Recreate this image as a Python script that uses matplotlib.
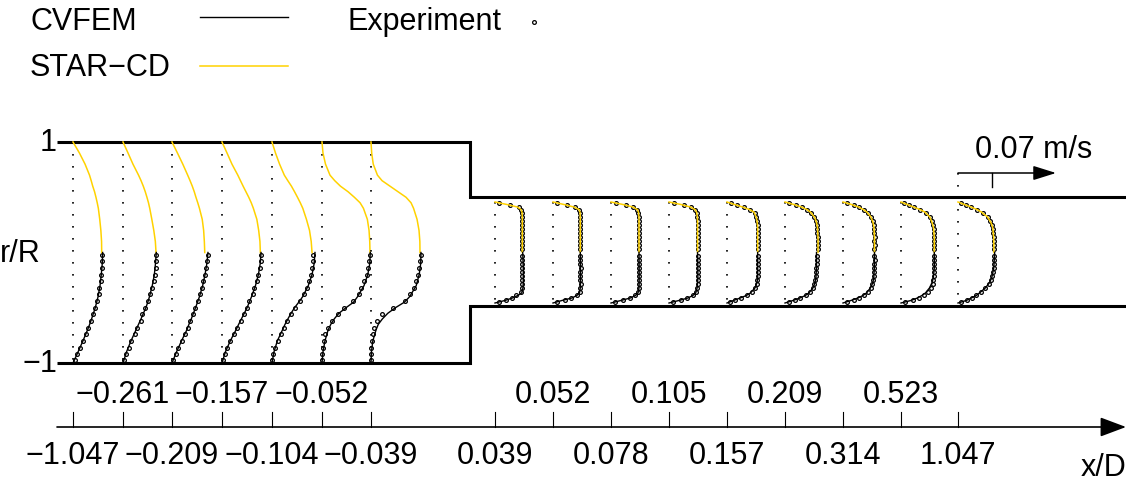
import numpy as np
import matplotlib.pyplot as plt

plt.rcParams['font.family'] = ['Liberation Sans', 'DejaVu Sans']

# measuring stations, x/D
X_UP = [-1.047, -0.261, -0.209, -0.157, -0.104, -0.052, -0.039]
X_DN = [0.039, 0.052, 0.078, 0.105, 0.157, 0.209, 0.314, 0.523, 1.047]

# upstream profiles, axial velocity in mm/s at |r/R|
R_UP = [0, .1, .2, .3, .4, .45, .5, .55, .6, .65, .7, .8, .9, 1]
STAR_UP = [
    [20.5, 20.4, 19.9, 19.1, 18.1, 17.3, 16.4, 15.4, 14.1, 13.0, 11.8, 8.6, 4.6, 0],
    [23.6, 23.1, 22.0, 20.6, 19.1, 18.2, 17.1, 15.9, 14.5, 12.9, 11.1, 7.1, 3.6, 0],
    [23.4, 23.1, 22.6, 21.6, 19.6, 18.4, 17.1, 15.9, 14.5, 12.9, 11.2, 7.7, 3.9, 0],
    [27.4, 27.1, 26.2, 24.9, 22.4, 20.9, 19.1, 17.1, 15.1, 13.2, 11.3, 7.1, 3.6, 0],
    [28.6, 28.0, 26.8, 24.6, 22.0, 20.2, 18.2, 16.1, 13.9, 11.3, 8.8, 5.4, 2.5, 0],
    [34.3, 34.1, 33.6, 32.4, 29.6, 27.2, 23.1, 18.6, 13.2, 9.1, 5.7, 2.5, 0.7, 0],
    [35.0, 34.9, 34.3, 32.9, 30.4, 28.6, 25.0, 19.3, 13.6, 7.9, 4.6, 1.6, 0.5, 0],
]
CVFEM_UP = [
    [21.2, 20.9, 20.2, 19.3, 17.9, 16.9, 15.9, 14.6, 13.3, 11.9, 10.4, 7.1, 3.6, 0],
    [23.8, 23.2, 22.4, 20.9, 18.9, 17.7, 16.3, 14.6, 12.9, 11.1, 9.3, 5.7, 2.5, 0],
    [25.7, 24.9, 23.6, 21.9, 19.6, 18.2, 16.8, 15.3, 13.8, 12.1, 10.6, 6.8, 3.2, 0],
    [27.9, 27.3, 26.0, 23.9, 21.1, 19.5, 17.9, 15.9, 13.9, 11.9, 10.0, 5.9, 2.4, 0],
    [30.7, 30.1, 28.6, 25.9, 21.9, 19.1, 16.1, 13.6, 11.4, 9.3, 7.5, 3.8, 1.4, 0],
    [34.5, 34.1, 32.7, 30.0, 25.4, 22.5, 17.1, 12.1, 8.8, 6.3, 4.4, 2.1, 0.7, 0],
    [35.7, 35.5, 34.4, 32.3, 27.6, 23.8, 17.4, 12.0, 8.2, 5.2, 3.6, 1.3, 0.3, 0],
]
EXP_R_UP = [-0.02, -0.08, -0.14, -0.2, -0.26, -0.32, -0.38, -0.44, -0.5,
            -0.56, -0.62, -0.68, -0.74, -0.8, -0.86, -0.92, -0.97]
EXP_UP = [
    [21.0, 20.8, 20.5, 20.0, 19.8, 18.8, 18.3, 17.0, 16.0, 14.2, 13.0, 10.8, 9.3, 7.0, 5.2, 2.8, 1.2],
    [23.8, 23.6, 23.4, 23.2, 22.0, 20.6, 19.3, 17.6, 16.0, 13.8, 12.5, 10.2, 8.3, 6.0, 4.0, 2.0, 0.8],
    [25.5, 25.0, 24.3, 23.5, 22.4, 21.2, 20.0, 18.6, 16.7, 15.2, 13.0, 11.3, 9.0, 6.9, 4.5, 2.5, 1.0],
    [27.8, 27.5, 26.9, 25.8, 25.0, 23.2, 21.8, 19.6, 18.1, 15.4, 13.3, 10.6, 8.5, 5.8, 3.9, 1.9, 0.7],
    [29.5, 29.3, 28.8, 27.8, 26.5, 24.8, 22.5, 19.8, 16.5, 13.5, 11.0, 8.4, 6.3, 4.0, 2.3, 1.0, 0.3],
    [34.3, 33.5, 32.7, 32.0, 30.0, 27.9, 26.3, 22.0, 16.0, 11.3, 6.8, 4.4, 2.1, 1.4, 0.8, 0.2, 0.0],
    [35.6, 35.2, 34.6, 33.9, 32.4, 30.9, 28.2, 24.0, 15.9, 7.8, 4.5, 2.4, 1.3, 0.7, 0.3, 0.0, 0.0],
]

# downstream profiles, axial velocity in mm/s at |r/R|
R_DN = [0, .3, .5, .6, .7, .8, .85, .9, .95, 1]
STAR_DN = [
    [19.5, 19.5, 19.5, 19.5, 19.5, 19.3, 18.6, 16.1, 8.6, 0],
    [19.5, 19.5, 19.5, 19.5, 19.5, 19.3, 18.6, 15.0, 7.9, 0],
    [20.0, 20.0, 20.0, 20.0, 20.0, 19.6, 18.9, 15.7, 8.6, 0],
    [20.4, 20.4, 20.4, 20.4, 20.3, 19.7, 18.6, 15.4, 8.6, 0],
    [21.9, 21.9, 21.9, 21.6, 20.9, 19.3, 16.1, 11.2, 5.4, 0],
    [23.6, 23.6, 23.2, 22.5, 21.1, 18.2, 15.7, 11.8, 6.4, 0],
    [22.5, 22.5, 22.1, 21.4, 20.0, 17.1, 14.6, 11.1, 6.1, 0],
    [23.8, 23.8, 23.2, 22.1, 20.7, 17.1, 13.6, 9.0, 4.5, 0],
    [25.7, 25.5, 24.8, 23.4, 21.2, 16.8, 13.6, 9.3, 4.6, 0],
]
CVFEM_DN = [
    [19.8, 20.2, 20.2, 20.2, 20.0, 19.1, 16.4, 12.5, 7.1, 0],
    [19.5, 19.6, 19.6, 19.6, 19.5, 18.9, 17.1, 13.6, 6.4, 0],
    [20.0, 20.1, 20.1, 20.1, 20.0, 19.3, 17.5, 13.9, 7.1, 0],
    [20.4, 20.6, 20.6, 20.4, 20.1, 19.1, 17.1, 13.6, 7.1, 0],
    [21.9, 21.9, 21.9, 21.4, 20.0, 16.8, 13.9, 9.5, 4.6, 0],
    [22.5, 22.5, 22.1, 21.4, 20.0, 17.1, 14.6, 10.7, 5.7, 0],
    [22.5, 22.4, 22.0, 21.3, 19.6, 16.8, 14.3, 10.7, 5.7, 0],
    [23.8, 23.8, 23.1, 22.1, 20.4, 17.5, 15.0, 11.8, 7.1, 0],
    [26.2, 25.6, 24.1, 22.4, 19.6, 15.4, 13.1, 9.6, 5.9, 0],
]
EXP_R_DN = [0.98, 0.94, 0.9, 0.85, 0.78, 0.7, 0.62, 0.54, 0.46, 0.38, 0.3, 0.22, 0.14, 0.06,
            -0.06, -0.14, -0.22, -0.3, -0.38, -0.46, -0.54, -0.62, -0.7, -0.78, -0.85, -0.9, -0.94, -0.98]
EXP_DN = [
    [3.0, 11.0, 16.8, 18.5, 19.0, 19.2, 19.0, 19.2, 19.3, 19.2, 19.3, 19.2, 19.4, 19.3,
     19.4, 19.3, 19.4, 19.3, 19.2, 19.3, 19.4, 19.2, 19.0, 18.3, 15.2, 12.0, 8.0, 3.0],
    [3.2, 9.8, 15.5, 18.4, 19.2, 19.4, 19.5, 19.4, 19.6, 19.5, 19.4, 19.5, 19.6, 19.5,
     19.6, 19.5, 19.6, 19.7, 19.6, 19.5, 19.6, 19.7, 19.5, 19.0, 17.0, 13.0, 8.5, 3.0],
    [3.5, 10.5, 16.0, 18.8, 19.6, 20.0, 19.9, 20.0, 20.1, 20.0, 19.9, 20.0, 20.1, 20.0,
     20.0, 20.1, 20.0, 20.1, 20.2, 20.1, 20.0, 20.1, 19.9, 19.3, 17.2, 13.5, 8.8, 3.0],
    [3.4, 10.4, 15.8, 18.7, 19.9, 20.3, 20.4, 20.5, 20.4, 20.5, 20.4, 20.5, 20.4, 20.5,
     20.5, 20.4, 20.6, 20.5, 20.6, 20.5, 20.4, 20.4, 20.0, 19.2, 17.0, 13.2, 8.6, 3.0],
    [2.5, 7.2, 11.8, 16.5, 19.8, 21.0, 21.6, 21.8, 22.0, 21.9, 22.0, 21.9, 22.0, 21.9,
     21.8, 21.9, 22.0, 21.9, 21.8, 21.9, 21.6, 21.2, 20.1, 17.8, 14.5, 10.0, 6.0, 2.0],
    [2.8, 7.8, 12.0, 15.5, 18.5, 20.8, 22.0, 22.6, 23.0, 23.2, 23.3, 23.4, 23.3, 23.4,
     22.6, 22.5, 22.6, 22.4, 22.3, 22.1, 21.7, 21.0, 19.8, 17.6, 14.8, 11.0, 7.0, 2.5],
    [2.6, 7.5, 11.5, 14.8, 17.8, 20.0, 21.2, 21.8, 22.2, 22.4, 22.5, 22.4, 22.5, 22.4,
     22.4, 22.5, 22.3, 22.3, 22.1, 21.9, 21.6, 21.0, 19.8, 17.5, 15.0, 11.5, 7.5, 2.6],
    [2.0, 5.8, 9.5, 13.8, 18.2, 20.8, 22.0, 22.9, 23.4, 23.6, 23.8, 23.7, 23.8, 23.8,
     23.7, 23.8, 23.7, 23.8, 23.6, 23.3, 23.0, 22.5, 21.3, 19.0, 16.2, 12.8, 8.6, 3.0],
    [2.0, 5.8, 9.6, 13.8, 18.0, 21.3, 23.0, 24.2, 24.9, 25.3, 25.5, 25.6, 25.7, 25.7,
     26.0, 25.9, 25.8, 25.6, 25.1, 24.5, 23.4, 21.8, 19.6, 16.3, 13.2, 9.8, 6.6, 2.4],
]

SCALE_VALUE = 0.07   # m/s, reference arrow
SCALE_TICK = 0.024   # m/s

# layout (pixel frame of the sketch)
POS_UP = [73, 123, 172, 222, 272, 322, 371]
POS_DN = [495, 553, 611, 669, 727, 785, 843, 901, 958]
YC = 253.5
H_UP, H_DN = 110.5, 50.5
PX_PER_MMS = 1.4
YELLOW = '#FFD200'
FS = 22

fig = plt.figure(figsize=(11.26, 4.85), dpi=100)
ax = fig.add_axes([0, 0, 1, 1])
ax.set_xlim(0, 1126)
ax.set_ylim(485, 0)
ax.axis('off')

# pipe walls
wall = dict(color='black', lw=2.2, solid_joinstyle='miter', solid_capstyle='butt')
ax.plot([57, 470, 470, 1126], [143, 143, 198, 198], **wall)
ax.plot([57, 470, 470, 1126], [364, 364, 307, 307], **wall)

dot = dict(color='black', lw=1.2, ls=(0, (1, 6.2)))
mk = dict(ls='none', marker='o', ms=2.7, mfc='none', mec='black', mew=0.9)


def draw_profile(x0, h, r_grid, star, cvfem, exp_r, exp_u, top=None):
    r = np.array(r_grid)
    ax.plot([x0, x0], [YC - h if top is None else top, YC + h], **dot)
    ax.plot(x0 + np.array(exp_u) * PX_PER_MMS, YC - np.array(exp_r) * h, **mk)
    ax.plot(x0 + np.array(star) * PX_PER_MMS, YC - r * h, color=YELLOW, lw=1.1)
    ax.plot(x0 + np.array(cvfem) * PX_PER_MMS, YC + r * h, color='black', lw=1.0)


for i, x0 in enumerate(POS_UP):
    draw_profile(x0, H_UP, R_UP, STAR_UP[i], CVFEM_UP[i], EXP_R_UP, EXP_UP[i])

# reference arrow above the last station
ya = 174
x_end = POS_DN[-1] + SCALE_VALUE * 1000 * PX_PER_MMS
for i, x0 in enumerate(POS_DN):
    draw_profile(x0, H_DN, R_DN, STAR_DN[i], CVFEM_DN[i], EXP_R_DN, EXP_DN[i],
                 top=ya if i == len(POS_DN) - 1 else None)

ax.annotate('', xy=(x_end, ya), xytext=(POS_DN[-1], ya),
            arrowprops=dict(arrowstyle='-|>,head_length=0.7,head_width=0.22',
                            lw=1.1, color='black', mutation_scale=20, shrinkA=0, shrinkB=0))
xt = POS_DN[-1] + SCALE_TICK * 1000 * PX_PER_MMS
ax.plot([xt, xt], [ya, ya + 14], color='black', lw=1.0)
ax.text(975, 150, f'{SCALE_VALUE:g} m/s', fontsize=FS, ha='left', va='center')

# r/R labels
ax.text(57, YC - H_UP, '1', fontsize=FS, ha='right', va='center')
ax.text(57, YC + H_UP, '\u22121', fontsize=FS, ha='right', va='center')
ax.text(0, YC, 'r/R', fontsize=FS, ha='left', va='center')

# x/D axis
yax = 428
ax.annotate('', xy=(1126, yax), xytext=(57, yax),
            arrowprops=dict(arrowstyle='-|>,head_length=0.8,head_width=0.3',
                            lw=1.2, color='black', mutation_scale=20, shrinkA=0, shrinkB=0))
for xs, pos in ((X_UP, POS_UP), (X_DN, POS_DN)):
    for i, (v, p) in enumerate(zip(xs, pos)):
        ax.plot([p, p], [yax - 15, yax], color='black', lw=0.8)
        lab = f'{v:.3f}'.replace('-', '\u2212')
        ax.text(p, 395 if i % 2 else 456, lab, fontsize=FS, ha='center', va='center')
ax.text(1126, 468, 'x/D', fontsize=FS, ha='right', va='center')

# legend
ax.text(30, 22, 'CVFEM', fontsize=FS, ha='left', va='center')
ax.plot([200, 288], [18, 18], color='black', lw=1.0)
ax.text(30, 68, 'STAR\u2212CD', fontsize=FS, ha='left', va='center')
ax.plot([200, 288], [67, 67], color=YELLOW, lw=1.1)
ax.text(347, 22, 'Experiment', fontsize=FS, ha='left', va='center')
ax.plot([534], [23], **mk)

fig.savefig('out.png', dpi=100)
